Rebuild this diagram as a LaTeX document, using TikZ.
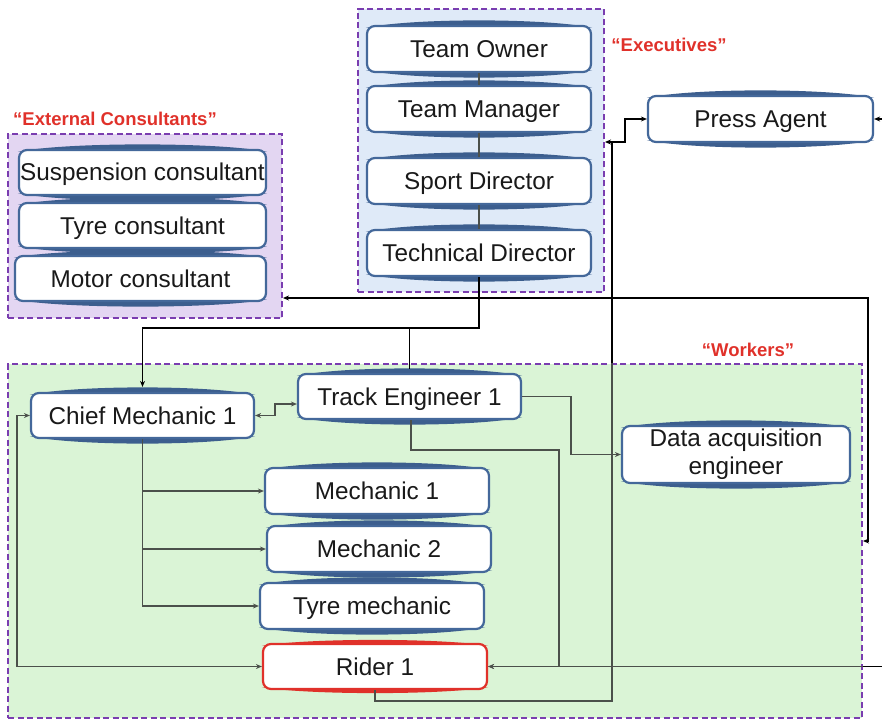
\documentclass[tikz,border=0pt]{standalone}
\usepackage{fontspec}
\setmainfont{Liberation Sans}
\usetikzlibrary{arrows.meta,calc}
\pgfdeclarelayer{bg}\pgfdeclarelayer{mid}\pgfsetlayers{bg,mid,main}
\definecolor{boxblue}{HTML}{44689A}
\definecolor{lensblue}{HTML}{3C5E8E}
\definecolor{grpline}{HTML}{7A3DB0}
\definecolor{execfill}{HTML}{DFEAF8}
\definecolor{extfill}{HTML}{E3D6F2}
\definecolor{workfill}{HTML}{DAF4D6}
\definecolor{lblred}{HTML}{E0312A}
\definecolor{conn}{HTML}{4B504B}
\tikzset{
 box/.style={draw=boxblue, line width=2.2pt, fill=white, rounded corners=8pt, inner sep=0pt,
   font=\fontsize{24.3}{26}\selectfont, text=black!90, align=center, text height=17pt, text depth=0pt},
 sz/.style 2 args={minimum width=#1pt, minimum height=#2pt},
 grp/.style={draw=grpline, line width=2pt, dash pattern=on 6pt off 3.5pt, anchor=north west, inner sep=0pt},
 lbl/.style={text=lblred, font=\bfseries\fontsize{18.5}{22}\selectfont},
 cn/.style={draw=conn, line width=1.5pt},
 bk/.style={draw=black, line width=1.5pt},
 tip/.style={-{Stealth[length=6pt,width=5pt]}},
 tips/.style={{Stealth[length=6pt,width=5pt]}-{Stealth[length=6pt,width=5pt]}},
}
\newcommand{\boxlens}[3]{%
 \fill[#2] ([yshift=-3pt]#1.north west) .. controls ([xshift=45pt,yshift=#3pt]#1.north west) and ([xshift=-45pt,yshift=#3pt]#1.north east) .. ([yshift=-3pt]#1.north east) -- cycle;
 \fill[#2] ([yshift=3pt]#1.south west) .. controls ([xshift=45pt,yshift=-#3pt]#1.south west) and ([xshift=-45pt,yshift=-#3pt]#1.south east) .. ([yshift=3pt]#1.south east) -- cycle;}
\begin{document}
\begin{tikzpicture}[x=1pt,y=-1pt]
\useasboundingbox (0,0) rectangle (882,719);
% groups
\begin{pgfonlayer}{bg}
\node[grp, fill=execfill, minimum width=246pt, minimum height=283pt] (exec) at (357,8) {};
\node[grp, fill=extfill, minimum width=274pt, minimum height=184pt] (ext) at (7,133) {};
\node[grp, fill=workfill, minimum width=854pt, minimum height=354pt] (work) at (7,363) {};
\end{pgfonlayer}
% labels
\node[lbl] (lexec) at (669,45) {“Executives”};
\node[lbl] (lext) at (115,119) {“External Consultants”};
\node[lbl] (lwork) at (748,350) {“Workers”};
% boxes
\node[box, sz={224}{46}] (to) at (479,49) {Team Owner};
\node[box, sz={224}{46}] (tm) at (479,109) {Team Manager};
\node[box, sz={224}{46}] (sd) at (479,181) {Sport Director};
\node[box, sz={224}{46}] (td) at (479,253) {Technical Director};
\node[box, sz={225}{46}] (pa) at (760.5,119) {Press Agent};
\node[box, sz={247}{45}] (sus) at (142.5,172.5) {Suspension consultant};
\node[box, sz={247}{45}] (tyc) at (142.5,225.5) {Tyre consultant};
\node[box, sz={251}{45}] (moc) at (140.5,278.5) {Motor consultant};
\node[box, sz={223}{45}] (chief) at (142.5,415.5) {Chief Mechanic 1};
\node[box, sz={223}{45}] (track) at (409.5,396.5) {Track Engineer 1};
\node[box, sz={228}{57}, font=\fontsize{24.3}{28}\selectfont, text height=, text depth=] (data) at (736,454.5) {Data acquisition\\engineer};
\node[box, sz={224}{46}] (m1) at (377,491) {Mechanic 1};
\node[box, sz={224}{46}] (m2) at (379,549) {Mechanic 2};
\node[box, sz={224}{46}] (tyrem) at (372,606) {Tyre mechanic};
\node[box, sz={224}{45}, draw=lblred] (rider) at (375,666.5) {Rider 1};
% lenses
\begin{pgfonlayer}{mid}
\foreach \n in {to,tm,sd,td,pa,sus,tyc,moc,chief,track,data,m1,m2,tyrem}{\boxlens{\n}{lensblue}{7}}
\boxlens{rider}{lblred}{5}
\end{pgfonlayer}
% connectors
\draw[cn] (to.south) -- (tm.north);
\draw[cn] (tm.south) -- (sd.north);
\draw[cn] (sd.south) -- (td.north);
\coordinate (j1) at (479,328);
\draw[bk,tip] (td.south) -- (j1) -| ([yshift=5pt]chief.north);
\draw[bk] (track.north |- j1) -- ([yshift=4pt]track.north);
\draw[cn,tips] (chief.east) -- ++(20,0) |- ([yshift=-7.5pt]track.west);
\draw[cn,tips] (chief.west) -- ++(-13,0) |- (rider.west);
\draw[cn,tip] (track.east) -- (571,396.5) |- (data.west);
\draw[cn,tip] ([xshift=1.5pt]track.south) -- ++(0,30) -| (559,666.5) -- (rider.east);
\draw[cn,tip] (chief.south) |- (m1.west);
\draw[cn,tip] (chief.south) |- (m2.west);
\draw[cn,tip] (chief.south) |- (tyrem.west);
\coordinate (jr) at (612,142);
\draw[cn] (rider.south) -- ++(0,11) -| (jr);
\draw[bk] (612,363) -- (jr);
\draw[bk,tip] (jr) -- (exec.east |- jr);
\draw[bk,tip] (jr) -- (625,142) |- (pa.west);
\coordinate (pin) at (882,119);
\draw[bk,tip] (pin) -- (pa.east);
\coordinate (rin) at (882,666.5);
\draw[cn,tip] (rin) -- (rider.east);
\draw[bk] (rin) -- (work.east |- rin);
\coordinate (jx) at (868,298);
\draw[bk,tips] (ext.east |- jx) -- (jx) |- (work.east);
\end{tikzpicture}
\end{document}
